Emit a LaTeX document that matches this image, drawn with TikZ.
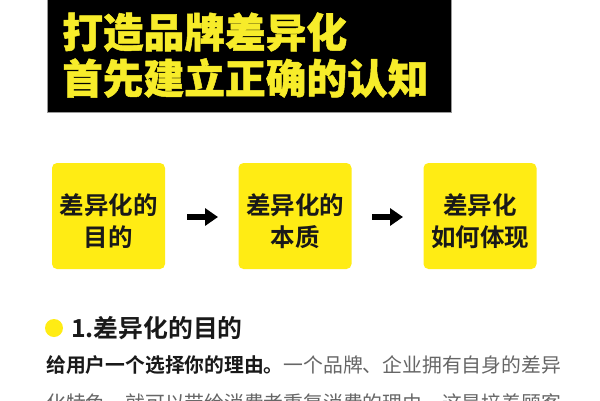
\documentclass[tikz,border=0pt]{standalone}
\usepackage{fontspec}
\setmainfont{Noto Sans CJK SC}
\newfontfamily\boldcjk{Noto Sans CJK SC Bold}
\newfontfamily\blackcjk[FakeBold=1.2]{Noto Sans CJK SC Black}
\usetikzlibrary{arrows.meta}
\definecolor{brandyellow}{HTML}{FFEC14}
\definecolor{titleyellow}{HTML}{F7EC2A}
\definecolor{bodygray}{HTML}{666666}
\tikzset{
  card/.style={fill=brandyellow,rounded corners=5pt,minimum width=113pt,minimum height=106pt,inner sep=0pt},
  cardtext/.style={inner sep=0pt,align=center,text=black!90,font=\boldcjk\fontsize{24.5}{32}\selectfont},
  flow/.style={draw=black,line width=6pt,-{Triangle[length=13pt,width=17pt]},shorten <=22pt,shorten >=20pt},
  titletext/.style={anchor=west,inner sep=0pt,text=titleyellow,font=\blackcjk\fontsize{40.7}{44}\selectfont},
  bodytext/.style={anchor=west,inner sep=0pt,font=\fontsize{19.8}{22}\selectfont}
}
\begin{document}
\begin{tikzpicture}[x=1pt,y=-1pt]
\useasboundingbox (0,0) rectangle (600,400);
\fill[white] (0,0) rectangle (600,400);
\fill[black!40] (47,0) rectangle (451.5,112.5);
\fill[black] (47.5,0) rectangle (451,111.5);
\node[titletext] (t1) at (62,32) {打造品牌差异化};
\node[titletext] (t2) at (62,78) {首先建立正确的认知};
\node[card] (a) at (108.5,216) {};
\node[card] (b) at (295,216) {};
\node[card] (c) at (480,216) {};
\node[cardtext] (at) at (108.5,221) {差异化的\\目的};
\node[cardtext] (bt) at (295,221) {差异化的\\本质};
\node[cardtext] (ct) at (480,221) {差异化\\如何体现};
\path (a) ++(56.5,1) coordinate (a1) (b) ++(-57,1) coordinate (b1);
\draw[flow] (a1) -- (b1);
\path (b) ++(57,1) coordinate (b2) (c) ++(-57,1) coordinate (c1);
\draw[flow,shorten <=20pt] (b2) -- (c1);
\node[circle,fill=brandyellow,minimum size=18pt,inner sep=0pt] (dot) at (54,328) {};
\node[anchor=west,inner sep=0pt,text=black!90,font=\boldcjk\fontsize{24.8}{26}\selectfont] (head) at (71,328) {1.差异化的目的};
\node[bodytext] (l1) at (46,365) {{\boldcjk\color{black!90}给用户一个选择你的理由。}{\color{bodygray}一个品牌、企业拥有自身的差异}};
\node[bodytext,text=bodygray] (l2) at (46,403) {化特色，就可以带给消费者重复消费的理由，这是培养顾客};
\end{tikzpicture}
\end{document}
